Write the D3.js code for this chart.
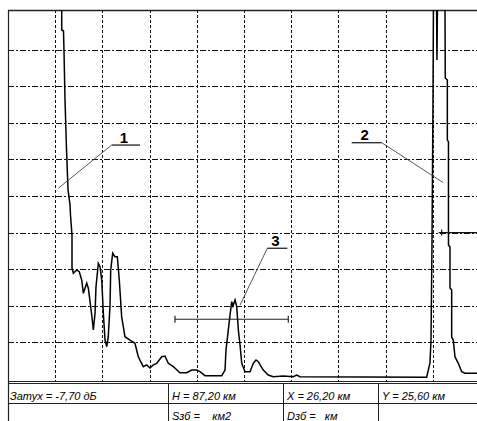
<!DOCTYPE html>
<html>
<head>
<meta charset="utf-8">
<script src="https://cdn.jsdelivr.net/npm/d3@7"></script>
<style>
  html, body { margin: 0; padding: 0; background: #fff; }
  svg { display: block; }
  .cell { font-family: "Liberation Sans", Arial, sans-serif; font-style: italic; font-size: 11px; white-space: pre; }
  .tag { font-family: "Liberation Sans", Arial, sans-serif; font-weight: bold; font-size: 15px; }
</style>
</head>
<body>
<svg id="chart" width="477" height="421"></svg>
<script>
// reflectogram trace: distance (km) / level (dB)
const distKm = [5.69, 5.69, 5.88, 5.93, 6.04, 6.20, 6.36, 6.57, 6.62, 6.78, 6.78, 6.92, 7.28, 7.55, 7.81, 7.98,
  8.34, 8.51, 8.87, 9.04, 9.22, 9.32, 9.57, 9.75, 9.93, 10.10, 10.28, 10.46, 10.62, 10.81, 10.88, 11.09,
  11.33, 11.58, 11.79, 12.04, 12.39, 12.92, 13.45, 13.80, 14.33, 14.69, 15.04, 15.39, 15.75, 16.28, 16.63,
  16.98, 17.51, 18.22, 18.93, 19.46, 19.99, 20.34, 20.87, 22.64, 22.99, 23.09, 23.34, 23.52, 23.70, 23.83,
  24.05, 24.23, 24.40, 24.58, 24.76, 25.11, 25.64, 25.98, 26.27, 26.51, 27.04, 27.57, 28.10, 29.16, 30.22,
  30.58, 30.93, 44.35, 44.52, 44.70, 44.81, 44.91, 45.02, 45.07, 45.39, 45.44, 45.50, 46.29, 46.32, 46.54,
  46.54, 46.66, 46.66, 46.82, 46.82, 47.00, 47.00, 47.17, 47.35, 47.70, 48.06, 48.41, 50.00];
const levelDb = [26, 23.84, 23.77, 22.47, 19.06, 15.64, 12.91, 11.89, 11.20, 9.84, 7.58, 7.22, 7.45, 7.33, 6.76, 5.85,
  6.54, 6.20, 4.37, 3.35, 4.49, 6.30, 7.90, 7.67, 6.76, 4.49, 2.66, 2.21, 2.89, 5.05, 7.45, 8.59,
  8.35, 8.35, 6.76, 4.26, 2.89, 2.66, 2.44, 1.52, 0.84, 0.96, 0.75, 0.96, 1.07, 1.52, 1.57,
  1.07, 0.84, 0.43, 0.43, 0.61, 0.61, 0.50, 0.23, 0.23, 0.61, 1.98, 3.35, 4.37, 5.28, 4.99,
  5.40, 4.94, 3.35, 2.32, 1.07, 0.50, 0.50, 1.07, 1.30, 1.18, 0.61, 0.27, 0.16, 0.20, 0.16,
  0.27, 0.16, 0.12, 0.61, 1.09, 2.66, 8.81, 19.06, 26, 26, 21.79, 26, 26, 20.56, 20.42,
  16.33, 16.19, 9.15, 9.02, 6.22, 6.08, 2.87, 2.66, 1.52, 1.07, 0.50, 0.39, 0.39];

const gridKm = d3.range(5, 50, 5);
const gridDb = d3.range(2.5, 25, 2.5);

// numbered callouts: underline from x0 to x1 at level y, leader to (tx, ty)
const tagText = ['1', '2', '3'];
const tagX0 = [10.98, 36.41, 27.47];
const tagX1 = [13.98, 39.59, 29.59];
const tagY = [15.98, 16.14, 8.93];
const tagFrom = ['x0', 'x1', 'x0'];
const tagTx = [5.33, 46.11, 24.58];
const tagTy = [13.03, 13.41, 5.05];

// event marker 3 and right cursor
const marker3 = { km: 23.69, half: 6.0, db: 4.08 };
const cursor = { km: 45.94, db: 10.0 };

// parameter table
const tableRow1 = ['Затух = -7,70 дБ', 'H = 87,20 км', 'X = 26,20 км', 'Y = 25,60 км'];
const tableRow2 = ['', 'Sзб =    км2', 'Dзб =   км', ''];
const colEdges = [8, 168, 283, 378, 480];

const svg = d3.select('#chart');
const plotLeft = 8, plotTop = 10, plotBottom = 381;
const x = d3.scaleLinear().domain([0, 50]).range([8, 480]);
const y = d3.scaleLinear().domain([0, 25]).range([379, 13]);

svg.append('defs').append('clipPath').attr('id', 'plot')
  .append('rect').attr('x', plotLeft).attr('y', plotTop).attr('width', 480 - plotLeft).attr('height', plotBottom - plotTop);

// grid
const grid = svg.append('g').attr('stroke', '#111').attr('stroke-width', 1);
grid.selectAll('line.v').data(gridKm).enter().append('line').attr('class', 'v')
  .attr('x1', d => Math.round(x(d)) + 0.5).attr('x2', d => Math.round(x(d)) + 0.5)
  .attr('y1', plotTop).attr('y2', plotBottom)
  .attr('stroke-dasharray', '3,2');
grid.selectAll('line.h').data(gridDb).enter().append('line').attr('class', 'h')
  .attr('y1', d => Math.round(y(d)) + 0.5).attr('y2', d => Math.round(y(d)) + 0.5)
  .attr('x1', plotLeft).attr('x2', 477)
  .attr('stroke-dasharray', '6,2,2,2');

// frame
const frame = svg.append('g').attr('stroke', '#222').attr('fill', 'none');
frame.append('line').attr('x1', plotLeft).attr('x2', 477).attr('y1', plotTop + 0.5).attr('y2', plotTop + 0.5).attr('stroke-width', 1.6);
frame.append('line').attr('x1', plotLeft + 0.5).attr('x2', plotLeft + 0.5).attr('y1', plotTop).attr('y2', 421).attr('stroke-width', 1.2);
frame.append('line').attr('x1', plotLeft).attr('x2', 477).attr('y1', plotBottom + 0.5).attr('y2', plotBottom + 0.5);
frame.append('line').attr('x1', plotLeft).attr('x2', 477).attr('y1', 383.5).attr('y2', 383.5).attr('stroke-width', 1.2);

// trace
const line = d3.line().x(d => x(d[0])).y(d => y(d[1]));
svg.append('path')
  .datum(d3.zip(distKm, levelDb))
  .attr('clip-path', 'url(#plot)')
  .attr('fill', 'none').attr('stroke', '#000').attr('stroke-width', 1.5)
  .attr('stroke-linejoin', 'miter')
  .attr('d', line);

// marker 3
const m = svg.append('g').attr('stroke', '#222').attr('stroke-width', 1.2);
m.append('line').attr('x1', x(marker3.km - marker3.half)).attr('x2', x(marker3.km + marker3.half))
  .attr('y1', y(marker3.db)).attr('y2', y(marker3.db));
[marker3.km - marker3.half, marker3.km + marker3.half].forEach(k => {
  m.append('line').attr('x1', x(k)).attr('x2', x(k)).attr('y1', y(marker3.db) - 3.5).attr('y2', y(marker3.db) + 3.5);
});

// right cursor
const c = svg.append('g').attr('stroke', '#111').attr('stroke-width', 1.2);
c.append('line').attr('x1', x(cursor.km) - 3).attr('x2', 477).attr('y1', y(cursor.db)).attr('y2', y(cursor.db));
c.append('line').attr('x1', x(cursor.km)).attr('x2', x(cursor.km)).attr('y1', y(cursor.db) - 3).attr('y2', y(cursor.db) + 3);

// callouts
const tags = svg.append('g');
tagText.forEach((t, i) => {
  const fromX = tagFrom[i] === 'x0' ? tagX0[i] : tagX1[i];
  tags.append('line').attr('x1', x(tagX0[i])).attr('x2', x(tagX1[i]))
    .attr('y1', y(tagY[i])).attr('y2', y(tagY[i])).attr('stroke', '#222').attr('stroke-width', 1.3);
  tags.append('line').attr('x1', x(fromX)).attr('y1', y(tagY[i]))
    .attr('x2', x(tagTx[i])).attr('y2', y(tagTy[i])).attr('stroke', '#444').attr('stroke-width', 0.9);
  tags.append('text').attr('class', 'tag')
    .attr('x', (x(tagX0[i]) + x(tagX1[i])) / 2 - 2).attr('y', y(tagY[i]) - 2.5)
    .attr('text-anchor', 'middle').text(t);
});

// table
const tbl = svg.append('g');
tbl.append('line').attr('x1', plotLeft).attr('x2', 477).attr('y1', 403.5).attr('y2', 403.5).attr('stroke', '#222');
colEdges.slice(1, -1).forEach(cx => {
  tbl.append('line').attr('x1', cx + 0.5).attr('x2', cx + 0.5).attr('y1', 383).attr('y2', 421).attr('stroke', '#222');
});
[tableRow1, tableRow2].forEach((row, r) => {
  tbl.selectAll(null).data(row).enter().append('text').attr('class', 'cell')
    .attr('x', (d, i) => colEdges[i] + (i === 0 ? 2 : 4))
    .attr('y', r === 0 ? 400 : 419.5)
    .text(d => d);
});
</script>
</body>
</html>
